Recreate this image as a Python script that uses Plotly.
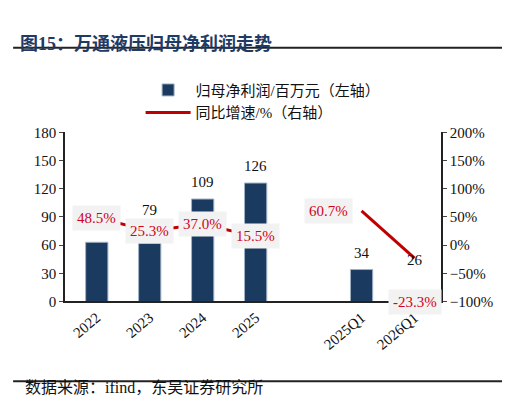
import plotly.graph_objects as go

categories = ["2022", "2023", "2024", "2025", "", "2025Q1", "2026Q1"]
bar_drawn = [63, 62, 109, 126, None, 34, 3]
bar_labels = [63, 79, 109, 126, None, 34, 26]
growth = [48.5, 25.3, 37.0, 15.5, None, 60.7, -23.3]
growth_label_shift = [0, 0, 0, 0, 0, -1, 0]
growth_label_dy = [0, 0, 0, 0, 0, 0, -44]

xs = list(range(len(categories)))
F = "Liberation Serif, Noto Sans CJK SC"
H = 413
def py(p): return 1 - p / H

fig = go.Figure()
fig.add_trace(go.Bar(x=xs, y=bar_drawn, name="归母净利润/百万元（左轴）",
                     marker=dict(color="#1b3a5f", line=dict(color="#9fb0c4", width=1)),
                     width=0.42))
fig.add_trace(go.Scatter(x=xs, y=growth, name="同比增速/%（右轴）", yaxis="y2",
                         mode="lines", line=dict(color="#c00000", width=3), connectgaps=False))

ann = []
for i, v in enumerate(bar_labels):
    if v is None: continue
    ann.append(dict(x=i, y=v + 18, xref="x", yref="y", text=str(v), showarrow=False,
                    font=dict(family=F, size=15, color="#111")))
for i, g in enumerate(growth):
    if g is None: continue
    xpos = i + growth_label_shift[i] * 0.62
    ann.append(dict(x=xpos, y=g, xref="x", yref="y2", text=f"{g:.1f}%", showarrow=False,
                    yshift=growth_label_dy[i], bgcolor="#f2f2f2", borderpad=4,
                    font=dict(family=F, size=15, color="#d0021b")))
ann.append(dict(x=0.02, y=py(16), xref="paper", yref="paper", text="<b>图15：万通液压归母净利润走势</b>",
                showarrow=False, xanchor="left", font=dict(family=F, size=18, color="#1f3a64")))
ann.append(dict(x=0.03, y=py(397), xref="paper", yref="paper", text="数据来源：ifind，东吴证券研究所",
                showarrow=False, xanchor="left", font=dict(family=F, size=16, color="#111")))

shapes = [
    dict(type="line", xref="paper", yref="paper", x0=0.01, x1=1, y0=py(33), y1=py(33), line=dict(color="#222", width=2)),
    dict(type="line", xref="paper", yref="paper", x0=0.01, x1=0.99, y0=py(380), y1=py(380), line=dict(color="#222", width=2)),
]

fig.update_layout(
    width=510, height=413, margin=dict(l=0, r=0, t=0, b=0),
    paper_bgcolor="white", plot_bgcolor="white", showlegend=True,
    font=dict(family=F, size=15, color="#111"),
    legend=dict(x=0.26, y=py(60), xanchor="left", yanchor="top", traceorder="normal",
                font=dict(family=F, size=15), tracegroupgap=8, itemwidth=45),
    xaxis=dict(domain=[57/510, 433/510], range=[-0.6, 6.5], tickvals=xs, ticktext=categories,
               tickangle=-40, showline=True, linecolor="#222", linewidth=1.5, ticks="",
               tickfont=dict(family=F, size=15), zeroline=False),
    yaxis=dict(domain=[py(297), py(121)], range=[0, 180], dtick=30, showgrid=False,
               showline=True, linecolor="#222", linewidth=1.5, ticks="outside", ticklen=4,
               tickfont=dict(family=F, size=15), zeroline=False),
    yaxis2=dict(overlaying="y", side="right", range=[-100, 200], dtick=50, showgrid=False,
                showline=True, linecolor="#222", linewidth=1.5, ticks="outside", ticklen=4,
                ticksuffix="%", tickfont=dict(family=F, size=15), zeroline=False),
    annotations=ann, shapes=shapes,
)
fig.write_html("out.html")
